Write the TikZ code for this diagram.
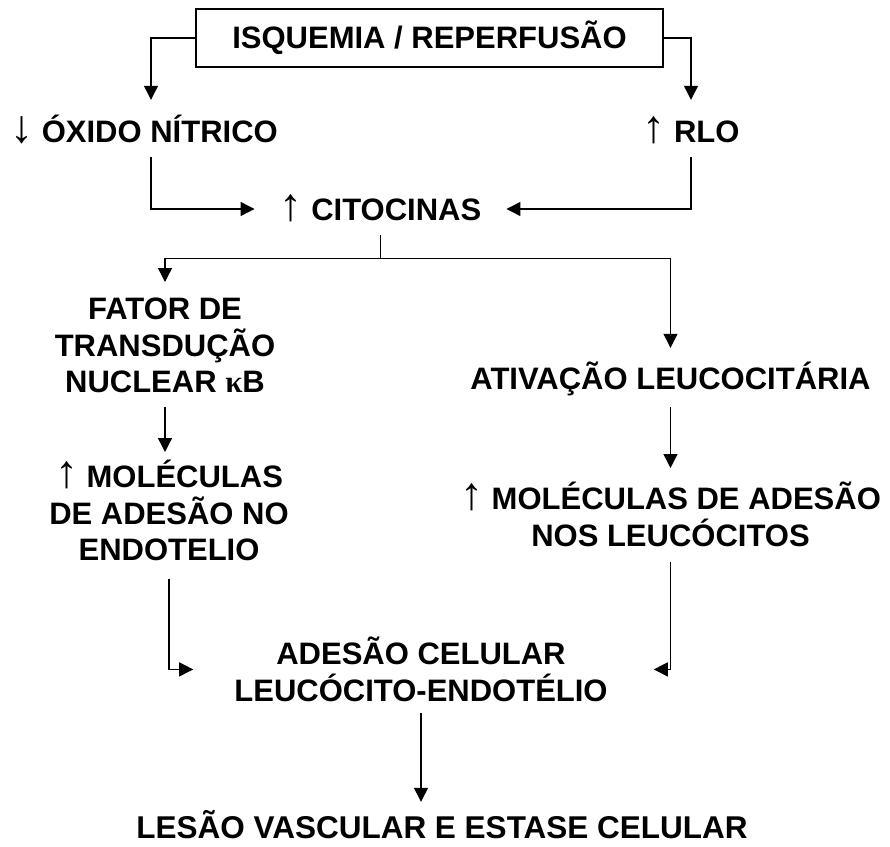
\documentclass[tikz,border=0pt]{standalone}
\usepackage{fontspec}
\setmainfont{Liberation Sans}
\newfontfamily\kappafont{Liberation Serif}
\usetikzlibrary{arrows.meta, positioning, calc}
\newcommand{\sobe}{{\mdseries\fontsize{46}{46}\selectfont ↑}}
\newcommand{\desce}{{\mdseries\fontsize{46}{46}\selectfont ↓}}
\newcommand{\kap}{{\kappafont κ}}

\begin{document}
\begin{tikzpicture}[x=1pt, y=-1pt,
  font=\fontsize{31}{36.5}\selectfont\bfseries,
  lbl/.style={inner sep=0pt, text height=22pt, text depth=0pt},
  bloco/.style={inner sep=0pt, align=center, anchor=north},
  lin/.style={line width=1.3pt},
  arr/.style={line width=1.3pt, -{Triangle[length=14pt, width=14pt]}}]
  \useasboundingbox (0,0) rectangle (890,846);

  % ---- Topo ----
  \node[draw, line width=2.3pt, minimum width=467pt, minimum height=58pt, inner sep=0pt] (isq) at (429.5, 38) {ISQUEMIA / REPERFUSÃO};
  \node[lbl] (oxido) at (144, 131) {\desce\ ÓXIDO NÍTRICO};
  \node[lbl] (rlo)   at (691, 131) {\sobe\ RLO};
  \node[lbl, inner xsep=25pt] (cito) at (380.5, 209) {\sobe\ CITOCINAS};

  % ---- Ramos ----
  \node[bloco] (fator) at (165, 298) {FATOR DE\\TRANSDUÇÃO\\NUCLEAR \kap B};
  \node[lbl]   (ativ)  at (670.5, 378) {ATIVAÇÃO LEUCOCITÁRIA};
  \node[bloco] (mol1)  at (169, 460) {\sobe\ MOLÉCULAS\\DE ADESÃO NO\\ENDOTELIO};
  \node[bloco] (mol2)  at (670.5, 482) {\sobe\ MOLÉCULAS DE ADESÃO\\NOS LEUCÓCITOS};

  % ---- Base ----
  \node[bloco] (adh)   at (421, 637) {ADESÃO CELULAR\\LEUCÓCITO-ENDOTÉLIO};
  \node[lbl, font=\fontsize{31.5}{36}\selectfont\bfseries] (lesao) at (442, 827) {LESÃO VASCULAR E ESTASE CELULAR};

  % Setas
  \draw[arr] (isq.west) -| ([xshift=7pt, yshift=20pt]oxido.north);
  \draw[arr] (isq.east) -| ([yshift=20pt]rlo.north);
  \draw[arr] ([xshift=7pt, yshift=-15pt]oxido.south) |- (cito.west);
  \draw[arr] ([yshift=-15pt]rlo.south) |- (cito.east);
  \draw[lin] ([yshift=-15pt]cito.south) -- ([yshift=-38pt]cito.south) coordinate (split);
  \draw[arr] (split) -| ([yshift=16pt]fator.north);
  \draw[arr] (split) -| ([yshift=19pt]ativ.north);
  \draw[arr] ([yshift=-14pt]fator.south) -- ([yshift=8pt]mol1.north -| fator.south);
  \draw[arr] ([yshift=-18pt]ativ.south) -- ([yshift=14pt]mol2.north);
  \draw[arr] ([yshift=-18pt]mol1.south) |- ([xshift=-41pt]adh.west);
  \draw[arr] ([yshift=-15pt]mol2.south) |- ([xshift=46pt]adh.east);
  \draw[arr] ([yshift=-11pt]adh.south) -- ([yshift=14pt]lesao.north -| adh.south);
\end{tikzpicture}
\end{document}
